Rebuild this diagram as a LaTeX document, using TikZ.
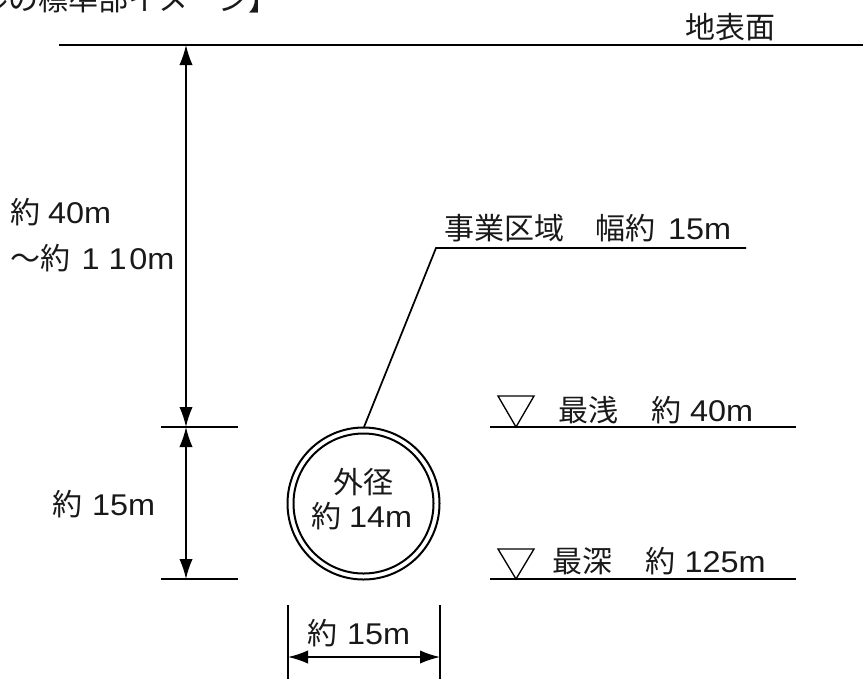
\documentclass[tikz,border=0pt]{standalone}
\usepackage{fontspec}
\setmainfont[FakeStretch=1.08]{Liberation Sans}
\newfontfamily\cjk{Noto Sans CJK JP}
\newcommand{\J}[1]{{\cjk\fontsize{22.5pt}{24pt}\selectfont #1}}
\usetikzlibrary{arrows.meta}
\tikzset{
  ln/.style={line width=1.5pt,black},
  thin ln/.style={line width=1.3pt,black},
  dim/.style={line width=1.2pt,black,{Latex[length=15pt,width=10pt]}-{Latex[length=15pt,width=10pt]}},
  lbl/.style={inner sep=0pt,outer sep=0pt,font=\fontsize{22.5pt}{24pt}\selectfont,text=black!90},
  lefttxt/.style={lbl,anchor=west},
  ctr/.style={lbl,anchor=center},
  tri/.style={line width=1pt,black,fill=white}
}
\begin{document}
\begin{tikzpicture}[x=0.75pt,y=-0.75pt]
\useasboundingbox (0,0) rectangle (863,679);
\clip (0,0) rectangle (863,679);
% ground
\coordinate (gl) at (59,45); \coordinate (gr) at (863,45);
\draw[ln] (gl) -- (gr);
\node[ctr] (ground) at (730,27) {\J{地表面}};
\node[lbl,anchor=east] (title) at (278,-1) {\J{ルの標準部イメージ】}};
% ticks
\coordinate (t1l) at (161,427); \coordinate (t1r) at (238,427);
\coordinate (t2l) at (161,579); \coordinate (t2r) at (238,579);
\draw[ln] (t1l) -- (t1r);
\draw[ln] (t2l) -- (t2r);
\coordinate (a0) at (186,45); \coordinate (a1) at (186,427); \coordinate (a2) at (186,579);
\draw[dim] (a0) -- (a1);
\draw[dim] (a1) -- (a2);
\node[lefttxt] (d1) at (10,212) {\J{約}\hspace{6pt}40m};
\node[lefttxt] (d2) at (11,258) {\J{～約}\hspace{8pt}1\hspace{6.75pt}1\hspace{2pt}0m};
\node[lefttxt] (d3) at (52,504) {\J{約}\hspace{7.5pt}15m};
% tunnel
\node[circle,draw,line width=1.5pt,minimum size=114pt,inner sep=0pt,outer sep=0pt] (outer) at (363.5,503.5) {};
\node[circle,draw,line width=1.5pt,minimum size=105pt,inner sep=0pt,outer sep=0pt] (inner) at (363.5,503.5) {};
\node[ctr] (od1) at (363,482) {\J{外径}};
\node[lefttxt] (od2) at (311,516) {\J{約}\hspace{6pt}14m};
% leader
\coordinate (lk) at (436,248); \coordinate (le) at (746,248);
\draw[thin ln] (outer.center) ++(0.5,-76.5) coordinate (ls) -- (lk) -- (le);
\node[lefttxt] (area) at (444,228) {\J{事業区域\hspace{24pt}幅約}\hspace{9pt}15m};
% width dim
\coordinate (w1t) at (288,605); \coordinate (w1b) at (288,679);
\coordinate (w2t) at (440,605); \coordinate (w2b) at (440,679);
\draw[thin ln] (w1t) -- (w1b);
\draw[thin ln] (w2t) -- (w2b);
\coordinate (wa) at (288,657); \coordinate (wb) at (440,657);
\draw[dim] (wa) -- (wb);
\node[lefttxt] (wd) at (307,633) {\J{約}\hspace{7.5pt}15m};
% levels
\coordinate (s1) at (490,427); \coordinate (s2) at (796,427);
\coordinate (p1) at (490,579); \coordinate (p2) at (796,579);
\draw[ln] (s1) -- (s2);
\draw[ln] (p1) -- (p2);
\draw[tri] (498,396) -- (534,396) -- (516,427) -- cycle;
\draw[tri] (498,549) -- (534,549) -- (516,579) -- cycle;
\node[lefttxt] (sh) at (558,410) {\J{最浅\hspace{25pt}約}\hspace{6.5pt}40m};
\node[lefttxt] (dp) at (552,561) {\J{最深\hspace{25.5pt}約}\hspace{6.5pt}125m};
\end{tikzpicture}
\end{document}
